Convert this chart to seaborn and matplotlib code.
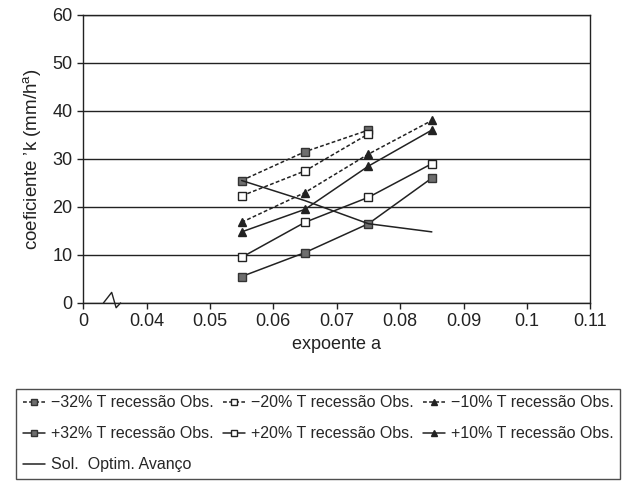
import numpy as np
import pandas as pd
import matplotlib
matplotlib.use("Agg")
import matplotlib.pyplot as plt
import seaborn as sns

# ---- data ----
expoente = [0.055, 0.065, 0.075, 0.085]
neg32 = [25.5, 31.5, 36.0]
neg20 = [22.3, 27.5, 35.2]
neg10 = [16.8, 23.0, 31.0, 38.0]
pos32 = [5.5, 10.5, 16.5, 26.0]
pos20 = [9.5, 16.8, 22.0, 29.0]
pos10 = [14.8, 19.5, 28.5, 36.0]
sol_optim = [25.5, 21.3, 16.5, 14.8]

labels = ["\u221232% T recessão Obs.", "+32% T recessão Obs.", "Sol.  Optim. Avanço",
          "\u221220% T recessão Obs.", "+20% T recessão Obs.",
          "\u221210% T recessão Obs.", "+10% T recessão Obs."]

xtick_pos = [0.03, 0.04, 0.05, 0.06, 0.07, 0.08, 0.09, 0.10, 0.11]
xtick_lab = ["0", "0.04", "0.05", "0.06", "0.07", "0.08", "0.09", "0.1", "0.11"]
yticks = [0, 10, 20, 30, 40, 50, 60]

sns.set_theme(style="white")
plt.rcParams['font.family'] = ['Liberation Sans', 'DejaVu Sans']
plt.rcParams['mathtext.fontset'] = 'custom'
plt.rcParams['mathtext.rm'] = 'Liberation Sans'

fig = plt.figure(figsize=(6.3, 4.95), dpi=100)
ax = fig.add_axes([0.132, 0.388, 0.805, 0.582])

gray = "#6e6e6e"
series = [
    (neg32, labels[0], dict(marker="s", linestyle=(0, (2.5, 1.5)), markerfacecolor=gray, markeredgecolor="#333333")),
    (pos32, labels[1], dict(marker="s", linestyle="-", markerfacecolor=gray, markeredgecolor="#333333")),
    (sol_optim, labels[2], dict(marker=None, linestyle="-")),
    (neg20, labels[3], dict(marker="s", linestyle=(0, (2.5, 1.5)), markerfacecolor="white", markeredgecolor="#222222")),
    (pos20, labels[4], dict(marker="s", linestyle="-", markerfacecolor="white", markeredgecolor="#222222")),
    (neg10, labels[5], dict(marker="^", linestyle=(0, (2.5, 1.5)), markerfacecolor="#222222", markeredgecolor="#222222")),
    (pos10, labels[6], dict(marker="^", linestyle="-", markerfacecolor="#222222", markeredgecolor="#222222")),
]

for vals, lab, kw in series:
    df = pd.DataFrame({"x": expoente[:len(vals)], "y": vals})
    sns.lineplot(data=df, x="x", y="y", ax=ax, color="#222222", linewidth=1.1,
                 markersize=6, markeredgewidth=1.0, label=lab, legend=False, **kw)

ax.set_xlim(0.03, 0.11)
ax.set_ylim(0, 60)
ax.set_xticks(xtick_pos)
ax.set_xticklabels(xtick_lab)
ax.set_yticks(yticks)
for y in yticks:
    ax.axhline(y, color="#222222", linewidth=1.0, zorder=0)
for s in ax.spines.values():
    s.set_color("#222222")
    s.set_linewidth(1.0)
ax.tick_params(axis="both", labelsize=13, colors="#222222", direction="out",
               length=4, width=1, bottom=True, left=True)
ax.set_xlabel("expoente a", fontsize=13, color="#222222", labelpad=4)
ax.set_ylabel("coeficiente \u02bck (mm/h$^{\\mathrm{a}}$)", fontsize=13.5, color="#222222", labelpad=6)

# axis break mark
ax.plot([0.0332, 0.0345, 0.0352, 0.0359], [0, 2.2, -1.0, 0], color="#222222",
        linewidth=1.0, clip_on=False, transform=ax.transData)

handles, labs = ax.get_legend_handles_labels()
leg = fig.legend(handles, labs, loc="lower left", ncol=3, mode="expand",
                 bbox_to_anchor=(0.013, 0.016, 0.984, 0.176), fontsize=11.5,
                 frameon=True, fancybox=False, edgecolor="#222222",
                 handlelength=1.4, handletextpad=0.35, borderpad=0.42,
                 labelspacing=1.0, columnspacing=0.5, markerscale=0.8)
leg.get_frame().set_linewidth(1.0)

fig.savefig("out.png", dpi=100, facecolor="white")
